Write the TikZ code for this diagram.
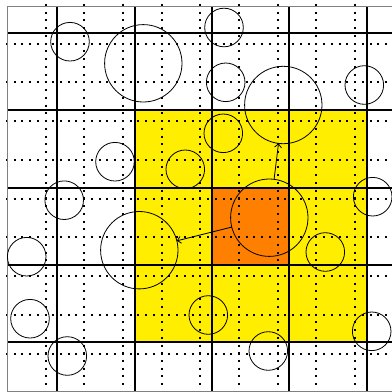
\documentclass[tikz,border=0pt]{standalone}
\usetikzlibrary{arrows.meta}
\definecolor{cellyellow}{RGB}{255,238,0}
\definecolor{cellorange}{RGB}{255,127,0}
\tikzset{
  solidline/.style={line width=1.6pt,black},
  dotline/.style={line width=2pt,black,dash pattern=on 2pt off 5.74pt},
  framel/.style={line width=1pt,gray},
  smallc/.style={circle,draw,line width=0.8pt,minimum size=38.6pt,inner sep=0pt,outer sep=0pt},
  bigc/.style={circle,draw,line width=0.8pt,minimum size=77.4pt,inner sep=0pt,outer sep=0pt},
  conn/.style={-{Straight Barb[length=3.5pt,width=7pt,line width=0.8pt]},line width=0.8pt}
}
\begin{document}
\begin{tikzpicture}[x=1pt,y=-1pt]
\useasboundingbox (0,0) rectangle (392,392);
\clip (0,0) rectangle (392,392);
% highlighted cells
\fill[cellyellow] (135,110) rectangle (367,341.7);
\fill[cellorange] (212,187.7) rectangle (289,264.7);
% dotted grid
\foreach \x in {45.5,84.2,122.9,161.6,200.3,239,277.7,316.4,355.1}
  \draw[dotline] (\x,3.95) -- (\x,394);
\foreach \y in {43.7,82.45,121.2,159.95,198.7,237.45,276.2,314.95,353.7}
  \draw[dotline] (5.8,\y) -- (394,\y);
% solid grid
\foreach \x in {57,135,212,289,367}
  \draw[solidline] (\x,6) -- (\x,392);
\foreach \y in {32.7,110,187.7,264.7,341.7}
  \draw[solidline] (7,\y) -- (392,\y);
% frame
\draw[framel] (7,392) -- (7,6) -- (392,6);
\draw[framel] (7,391) -- (392,391);
% circles
\node[smallc] (c1) at (70,41.7) {};
\node[bigc] (c2) at (143.3,63.3) {};
\node[smallc] (c3) at (115,161.7) {};
\node[smallc] (c4) at (64.2,200.2) {};
\node[smallc] (c5) at (185.3,169.3) {};
\node[smallc] (c6) at (224,27.5) {};
\node[smallc] (c7) at (225.7,82.3) {};
\node[bigc] (c8) at (283.3,105) {};
\node[smallc] (c9) at (364.3,85) {};
\node[smallc] (c10) at (223.3,133.3) {};
\node[bigc] (c11) at (269.3,217.7) {};
\node[bigc] (c12) at (139.3,250.2) {};
\node[smallc] (c13) at (26.7,256.7) {};
\node[smallc] (c14) at (30,318.7) {};
\node[smallc] (c15) at (67.3,356) {};
\node[smallc] (c16) at (208.3,315) {};
\node[smallc] (c17) at (325.3,252) {};
\node[smallc] (c18) at (268.3,351) {};
\node[smallc] (c19) at (371.7,331.3) {};
\node[smallc] (c20) at (372.7,196.7) {};
% connectors
\draw[conn] (c11) -- (c8);
\draw[conn] (c11) -- (c12);
\end{tikzpicture}
\end{document}
